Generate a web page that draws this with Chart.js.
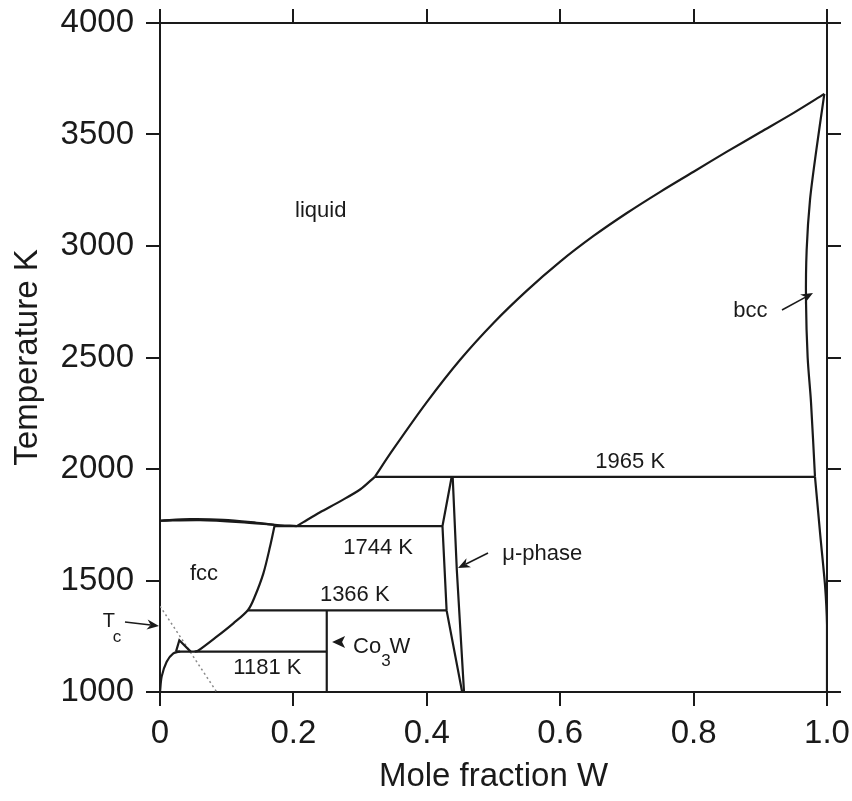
<!DOCTYPE html>
<html>
<head>
<meta charset="utf-8">
<script src="https://cdn.jsdelivr.net/npm/chart.js@4.4.1/dist/chart.umd.min.js"></script>
<style>
  html, body { margin: 0; padding: 0; background: #fff; }
  #wrap { width: 852px; height: 801px; }
</style>
</head>
<body>
<div id="wrap"><canvas id="chart" width="852" height="801"></canvas></div>
<script>
"use strict";

// phase boundaries, [mole fraction W, temperature K]
const liquidusW = [[0.322, 1965], [0.35, 2090], [0.40, 2300], [0.45, 2490], [0.50, 2655], [0.55, 2800],
    [0.60, 2930], [0.65, 3045], [0.70, 3148], [0.75, 3243], [0.80, 3333], [0.85, 3423],
    [0.90, 3510], [0.95, 3597], [0.996, 3682]];
const liquidusCo = [[0, 1768], [0.045, 1775], [0.095, 1772], [0.145, 1759], [0.172, 1750], [0.205, 1744]];
const solidusFcc = [[0, 1768], [0.06, 1771], [0.12, 1762], [0.172, 1749]];
const liquidusMid = [[0.205, 1744], [0.215, 1762], [0.24, 1806], [0.27, 1855], [0.30, 1908], [0.322, 1965]];
const solvusFcc = [[0.172, 1749], [0.165, 1652], [0.155, 1532], [0.142, 1427], [0.132, 1368], [0.11, 1308],
    [0.085, 1248], [0.057, 1185], [0.052, 1181]];
const hcpBoundary = [[0, 1000], [0.0025, 1069], [0.01, 1136], [0.02, 1173], [0.03, 1182]];
const hcpTriangle = [[0.024, 1181], [0.029, 1232], [0.046, 1181]];
const line1181 = [[0.024, 1181], [0.25, 1181]];
const line1366 = [[0.132, 1366], [0.43, 1366]];
const line1744 = [[0.172, 1744], [0.4235, 1744]];
const line1965 = [[0.322, 1965], [0.982, 1965]];
const co3wLine = [[0.25, 1000], [0.25, 1366]];
const muLeft = [[0.4373, 1965], [0.4235, 1744], [0.4297, 1366], [0.453, 1000]];
const muRight = [[0.4388, 1965], [0.445, 1547], [0.4558, 1000]];
const bccSolidus = [[0.996, 3682], [0.984, 3430], [0.9745, 3206], [0.9695, 2982], [0.9685, 2758],
    [0.971, 2500], [0.976, 2300], [0.982, 1965]];
const bccSolvus = [[0.982, 1965], [0.99, 1700], [0.997, 1480], [1.0, 1300], [1.0, 1000]];
const curieLine = [[0, 1385], [0.085, 1000]];

// region labels: text, x, T
const regionLabels = [['liquid', 0.241, 3157], ['fcc', 0.066, 1529], ['1181 K', 0.161, 1108],
    ['1366 K', 0.292, 1435], ['1744 K', 0.327, 1646], ['1965 K', 0.705, 2031],
    ['bcc', 0.885, 2708], ['μ-phase', 0.573, 1619]];
// arrows: from x, from T, to x, to T
const arrows = [[-0.0525, 1314, -0.0015, 1296], [0.4918, 1623, 0.4468, 1556], [0.9325, 2713, 0.979, 2789]];

const ink = '#1a1a1a';
const family = '"Liberation Sans", Arial, Helvetica, sans-serif';

const pts = arr => arr.map(([x, y]) => ({ x, y }));
const curve = (arr, tension) => ({
    data: pts(arr), showLine: true, borderColor: ink, borderWidth: 2.2,
    pointRadius: 0, tension: tension || 0, fill: false
});

const datasets = [
    curve(liquidusW, 0.3), curve(liquidusCo, 0.3), curve(solidusFcc, 0.3), curve(liquidusMid, 0.3),
    curve(solvusFcc, 0.3), curve(hcpBoundary, 0.3), curve(hcpTriangle), curve(line1181),
    curve(line1366), curve(line1744), curve(line1965), curve(co3wLine), curve(muLeft), curve(muRight),
    curve(bccSolidus, 0.3), curve(bccSolvus, 0.2)
];
const curie = curve(curieLine);
curie.borderColor = '#8a8a8a';
curie.borderWidth = 1.5;
curie.borderDash = [2, 3];
datasets.push(curie);

function drawArrow(ctx, x0, y0, x1, y1) {
    const a = Math.atan2(y1 - y0, x1 - x0);
    const len = 12, half = 5;
    ctx.beginPath();
    ctx.moveTo(x0, y0);
    ctx.lineTo(x1 - Math.cos(a) * len * 0.7, y1 - Math.sin(a) * len * 0.7);
    ctx.stroke();
    ctx.beginPath();
    ctx.moveTo(x1, y1);
    ctx.lineTo(x1 - Math.cos(a) * len - Math.sin(a) * half, y1 - Math.sin(a) * len + Math.cos(a) * half);
    ctx.lineTo(x1 - Math.cos(a) * len * 0.7, y1 - Math.sin(a) * len * 0.7);
    ctx.lineTo(x1 - Math.cos(a) * len + Math.sin(a) * half, y1 - Math.sin(a) * len - Math.cos(a) * half);
    ctx.closePath();
    ctx.fill();
}

const annotations = {
    id: 'annotations',
    afterDatasetsDraw(chart) {
        const { ctx, scales: { x, y } } = chart;
        const px = v => x.getPixelForValue(v);
        const py = v => y.getPixelForValue(v);
        ctx.save();
        ctx.fillStyle = ink;
        ctx.strokeStyle = ink;
        ctx.lineWidth = 1.6;
        ctx.font = '22px ' + family;
        ctx.textAlign = 'center';
        ctx.textBaseline = 'middle';
        regionLabels.forEach(([text, lx, ly]) => ctx.fillText(text, px(lx), py(ly)));

        arrows.forEach(([x0, y0, x1, y1]) => drawArrow(ctx, px(x0), py(y0), px(x1), py(y1)));

        // Co3W pointer: arrowhead only
        const tx = px(0.258), ty = py(1224);
        ctx.beginPath();
        ctx.moveTo(tx, ty);
        ctx.lineTo(tx + 13, ty - 6);
        ctx.lineTo(tx + 10, ty);
        ctx.lineTo(tx + 13, ty + 6);
        ctx.closePath();
        ctx.fill();

        // Co3W text with subscript
        ctx.textAlign = 'left';
        ctx.textBaseline = 'alphabetic';
        let cx = px(0.2894);
        const base = py(1175);
        ctx.font = '22px ' + family;
        ctx.fillText('Co', cx, base);
        cx += ctx.measureText('Co').width;
        ctx.font = '17px ' + family;
        ctx.fillText('3', cx, base + 13);
        cx += ctx.measureText('3').width - 1;
        ctx.font = '22px ' + family;
        ctx.fillText('W', cx, base);

        // Tc label
        ctx.textAlign = 'center';
        ctx.textBaseline = 'middle';
        ctx.font = '20px ' + family;
        ctx.fillText('T', px(-0.0765), py(1314));
        ctx.font = '17px ' + family;
        ctx.fillText('c', px(-0.0645), py(1247));
        ctx.restore();
    }
};

const axisGrid = { drawOnChartArea: false, color: ink, lineWidth: 2, tickLength: 14 };
const axisBorder = { color: ink, width: 2 };
const tickFont = { size: 33, family };

// fixed box sizes so the plot area sits where the reference has it
const fixBox = (w, h) => s => {
    if (w !== null) s.width = w;
    if (h !== null) s.height = h;
    s.paddingLeft = 0; s.paddingRight = 0; s.paddingTop = 0; s.paddingBottom = 0;
};

new Chart(document.getElementById('chart').getContext('2d'), {
    type: 'scatter',
    data: { datasets },
    options: {
        responsive: false,
        devicePixelRatio: 1,
        animation: false,
        layout: { padding: 0 },
        plugins: { legend: { display: false }, tooltip: { enabled: false } },
        scales: {
            x: {
                type: 'linear', position: 'bottom', min: 0, max: 1,
                ticks: {
                    stepSize: 0.2, autoSkip: false, maxRotation: 0, font: tickFont, color: ink, padding: 8,
                    callback: v => v === 0 ? '0' : v.toFixed(1)
                },
                grid: axisGrid, border: axisBorder,
                title: { display: true, text: 'Mole fraction W', font: tickFont, color: ink, padding: { top: 0, bottom: 4 } },
                afterFit: fixBox(null, 109)
            },
            x2: {
                type: 'linear', position: 'top', min: 0, max: 1,
                ticks: { stepSize: 0.2, display: false },
                grid: axisGrid, border: axisBorder,
                afterFit: fixBox(null, 23)
            },
            y: {
                type: 'linear', position: 'left', min: 1000, max: 4000,
                ticks: { stepSize: 500, font: tickFont, color: ink, padding: 12, callback: v => String(v) },
                grid: axisGrid, border: axisBorder,
                title: { display: true, text: 'Temperature K', font: tickFont, color: ink, padding: { top: 8, bottom: 0 } },
                afterFit: fixBox(160, null)
            },
            y2: {
                type: 'linear', position: 'right', min: 1000, max: 4000,
                ticks: { stepSize: 500, display: false },
                grid: axisGrid, border: axisBorder,
                afterFit: fixBox(25, null)
            }
        }
    },
    plugins: [annotations]
});
</script>
</body>
</html>
